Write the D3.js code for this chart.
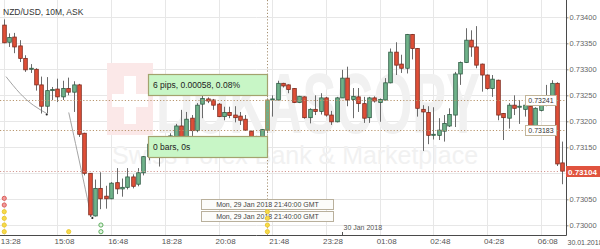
<!DOCTYPE html>
<html>
<head>
<meta charset="utf-8">
<title>NZD/USD, 10M, ASK</title>
<script src="https://cdn.jsdelivr.net/npm/d3@7"></script>
<style>
  body { margin: 0; background: #fff; }
  svg text { font-family: "Liberation Sans", Arial, sans-serif; }
</style>
</head>
<body>
<svg width="600" height="249"></svg>
<script>
// ---- data ----
const title = "NZD/USD, 10M, ASK";
const barStart = "2018-01-29T13:30:00Z";   // first visible 10 minute bar

const opens = [0.73385,0.73352,0.73362,0.73345,0.73321,0.73300,0.73300,0.73270,0.73229,0.73259,
  0.73262,0.73247,0.73263,0.73256,0.73270,0.73177,0.73100,0.73018,0.73071,0.73056,
  0.73051,0.73082,0.73070,0.73073,0.73093,0.73079,0.73101,0.73132,0.73156,0.73164,
  0.73148,0.73164,0.73170,0.73191,0.73169,0.73206,0.73182,0.73233,0.73243,0.73241,
  0.73233,0.73209,0.73217,0.73212,0.73210,0.73204,0.73181,0.73170,0.73169,0.73183,
  0.73241,0.73241,0.73273,0.73270,0.73263,0.73236,0.73247,0.73207,0.73223,0.73219,
  0.73245,0.73212,0.73199,0.73245,0.73283,0.73242,0.73247,0.73234,0.73207,0.73245,
  0.73236,0.73241,0.73274,0.73333,0.73310,0.73302,0.73367,0.73340,0.73223,0.73217,
  0.73174,0.73173,0.73181,0.73191,0.73212,0.73291,0.73313,0.73356,0.73343,0.73310,
  0.73289,0.73263,0.73279,0.73215,0.73206,0.73231,0.73228,0.73223,0.73229,0.73191,
  0.73221,0.73231,0.73235,0.73273,0.73120];
const highs = [0.73396,0.73369,0.73370,0.73356,0.73327,0.73310,0.73302,0.73286,0.73285,0.73266,
  0.73282,0.73278,0.73284,0.73277,0.73272,0.73178,0.73100,0.73088,0.73102,0.73076,
  0.73083,0.73110,0.73090,0.73110,0.73098,0.73110,0.73133,0.73168,0.73166,0.73168,
  0.73168,0.73177,0.73195,0.73222,0.73218,0.73212,0.73235,0.73252,0.73246,0.73243,
  0.73235,0.73228,0.73228,0.73229,0.73218,0.73212,0.73182,0.73172,0.73185,0.73244,
  0.73250,0.73278,0.73274,0.73271,0.73264,0.73249,0.73248,0.73225,0.73250,0.73254,
  0.73247,0.73220,0.73247,0.73299,0.73305,0.73264,0.73264,0.73247,0.73247,0.73248,
  0.73244,0.73283,0.73340,0.73352,0.73328,0.73368,0.73368,0.73341,0.73231,0.73229,
  0.73227,0.73206,0.73212,0.73225,0.73295,0.73315,0.73379,0.73375,0.73383,0.73311,
  0.73290,0.73289,0.73280,0.73216,0.73235,0.73250,0.73241,0.73247,0.73231,0.73227,
  0.73241,0.73270,0.73279,0.73275,0.73161];
const lows = [0.73350,0.73343,0.73331,0.73314,0.73295,0.73293,0.73259,0.73215,0.73215,0.73241,
  0.73237,0.73241,0.73250,0.73218,0.73170,0.73096,0.73016,0.73017,0.73031,0.73032,
  0.73050,0.73060,0.73055,0.73069,0.73071,0.73075,0.73096,0.73125,0.73146,0.73113,
  0.73142,0.73154,0.73168,0.73168,0.73168,0.73170,0.73179,0.73206,0.73235,0.73222,
  0.73208,0.73202,0.73206,0.73198,0.73193,0.73182,0.73169,0.73169,0.73169,0.73177,
  0.73209,0.73240,0.73265,0.73254,0.73235,0.73235,0.73205,0.73196,0.73212,0.73213,
  0.73209,0.73193,0.73198,0.73245,0.73229,0.73206,0.73218,0.73197,0.73197,0.73236,
  0.73199,0.73240,0.73273,0.73289,0.73293,0.73292,0.73319,0.73209,0.73143,0.73156,
  0.73165,0.73164,0.73161,0.73189,0.73189,0.73270,0.73312,0.73324,0.73302,0.73257,
  0.73261,0.73247,0.73202,0.73164,0.73186,0.73212,0.73195,0.73209,0.73188,0.73189,
  0.73219,0.73229,0.73233,0.73114,0.73079];
const closes = [0.73351,0.73361,0.73343,0.73321,0.73299,0.73302,0.73270,0.73229,0.73259,0.73261,
  0.73247,0.73263,0.73256,0.73270,0.73175,0.73100,0.73020,0.73071,0.73051,0.73051,
  0.73081,0.73070,0.73073,0.73093,0.73075,0.73101,0.73132,0.73156,0.73164,0.73148,
  0.73166,0.73172,0.73191,0.73169,0.73204,0.73182,0.73231,0.73244,0.73239,0.73231,
  0.73209,0.73217,0.73211,0.73207,0.73202,0.73183,0.73169,0.73171,0.73184,0.73241,
  0.73243,0.73273,0.73268,0.73261,0.73236,0.73248,0.73207,0.73223,0.73219,0.73245,
  0.73212,0.73199,0.73245,0.73283,0.73241,0.73248,0.73234,0.73206,0.73245,0.73239,
  0.73242,0.73274,0.73333,0.73308,0.73302,0.73367,0.73340,0.73225,0.73218,0.73173,
  0.73175,0.73183,0.73196,0.73213,0.73291,0.73313,0.73356,0.73343,0.73308,0.73289,
  0.73263,0.73281,0.73212,0.73207,0.73231,0.73225,0.73229,0.73231,0.73189,0.73225,
  0.73231,0.73237,0.73273,0.73118,0.73104];

const yTicks = [0.73000,0.73050,0.73100,0.73150,0.73200,0.73250,0.73300,0.73350,0.73400];
const xTickLabels = ["13:28","15:08","16:48","18:28","20:08","21:48","23:28","01:08","02:48","04:28","06:08"];
const cornerDate = "30.01.2018";
const dayBreak = "2018-01-30T00:00:00Z";
const dayLabel = "30 Jan 2018";

// crosshair / measuring tool
const crossBar = 49;
const crossPrices = [0.73241, 0.73183];
const crossTimeText = "Mon, 29 Jan 2018 21:40:00 GMT";
const measureLines = ["6 pips, 0.00058, 0.08%", "0 bars, 0s"];
const lastPrice = 0.73104;

// news markers: bar index and colours (top to bottom)
const eventBars = [0, 12, 18, 49];
const eventColors = [["red","red","yellow","yellow","yellow","yellow"], ["yellow"], ["green","green"], ["yellow","yellow","yellow","yellow"]];

// hand drawn arcs on the chart: [bar, price]
const arcA = [[0.41,0.73286],[3.0,0.73254],[5.5,0.73231],[8.0,0.73215]];
const arcB = [[12.1,0.73217],[14.5,0.73103],[16.05,0.73029],[16.5,0.73016]];

// ---- drawing ----
const svg = d3.select("svg");
const W = 566, H = 235;
const t0 = d3.isoParse(barStart);
const barTime = i => new Date(t0.getTime() + i * 600000);

const bars = opens.map((o, i) => ({t: barTime(i), o: o, h: highs[i], l: lows[i], c: closes[i], i: i}));

const xScale = d3.scaleUtc()
  .domain([d3.utcMinute.offset(t0, -7), d3.utcMinute.offset(t0, 1047)])
  .range([0, W]);
const yScale = d3.scaleLinear().domain([0.73, 0.734]).range([225.3, 17.3]);

svg.append("rect").attr("width", 600).attr("height", 249).attr("fill", "#fff");

svg.append("clipPath").attr("id", "plot")
  .append("rect").attr("width", W).attr("height", H);

const tickTimes = xTickLabels.map((d, k) => barTime(k * 10));

// grid
const grid = svg.append("g").attr("stroke", "#e7e7e7").attr("stroke-width", 1);
grid.selectAll(".vg").data(tickTimes).enter().append("line")
  .attr("x1", d => Math.round(xScale(d)) + 0.5).attr("x2", d => Math.round(xScale(d)) + 0.5)
  .attr("y1", 0).attr("y2", H);
grid.selectAll(".hg").data(yTicks).enter().append("line")
  .attr("x1", 0).attr("x2", W)
  .attr("y1", d => Math.round(yScale(d)) + 0.5).attr("y2", d => Math.round(yScale(d)) + 0.5);

// watermark
const wm = svg.append("g").attr("clip-path", "url(#plot)");
wm.append("rect").attr("x", 107).attr("y", 63).attr("width", 46).attr("height", 72).attr("fill", "#fbe8e8");
wm.append("rect").attr("x", 124).attr("y", 76).attr("width", 12).attr("height", 48).attr("fill", "#fff");
wm.append("rect").attr("x", 112).attr("y", 94).attr("width", 36).attr("height", 13).attr("fill", "#fff");
wm.append("text").attr("x", 156).attr("y", 133).attr("font-size", 86).attr("font-weight", "bold")
  .attr("fill", "#f1f1f1").attr("textLength", 324).attr("lengthAdjust", "spacingAndGlyphs").text("DUKASCOPY");
wm.append("text").attr("x", 112).attr("y", 164).attr("font-size", 25)
  .attr("fill", "#f1f1f1").attr("textLength", 366).attr("lengthAdjust", "spacingAndGlyphs").text("Swiss Forex Bank & Marketplace");

const plot = svg.append("g").attr("clip-path", "url(#plot)");

// drawn arcs
const arcLine = d3.line().x(d => xScale(barTime(d[0]))).y(d => yScale(d[1])).curve(d3.curveNatural);
[arcA, arcB].forEach(a => {
  plot.append("path").attr("d", arcLine(a)).attr("fill", "none").attr("stroke", "#9a9a9a").attr("stroke-width", 0.9);
  const e = a[a.length - 1];
  plot.append("circle").attr("cx", xScale(barTime(e[0]))).attr("cy", yScale(e[1]) + 1).attr("r", 1.1).attr("fill", "#222");
});

// candles
const bw = 3.6;
const cg = plot.append("g");
cg.selectAll(".wick").data(bars).enter().append("line")
  .attr("x1", d => Math.round(xScale(d.t)) + 0.5).attr("x2", d => Math.round(xScale(d.t)) + 0.5)
  .attr("y1", d => yScale(d.h)).attr("y2", d => yScale(d.l))
  .attr("stroke", "#6b6b6b").attr("stroke-width", 1);
cg.selectAll(".body").data(bars).enter().append("rect")
  .attr("x", d => Math.round(xScale(d.t)) + 0.5 - bw / 2)
  .attr("y", d => yScale(Math.max(d.o, d.c)))
  .attr("width", bw)
  .attr("height", d => Math.max(1, Math.abs(yScale(d.o) - yScale(d.c))))
  .attr("fill", d => d.c >= d.o ? "#6fb28a" : "#df4f38")
  .attr("stroke", d => d.i === crossBar ? "#9a7a3c" : (d.c >= d.o ? "#2f5b44" : "#7d2a1d"))
  .attr("stroke-width", 0.8);

// horizontal crosshair lines and last price line
plot.selectAll(".hl").data(crossPrices).enter().append("line")
  .attr("x1", 0).attr("x2", W)
  .attr("y1", d => Math.round(yScale(d)) + 0.5).attr("y2", d => Math.round(yScale(d)) + 0.5)
  .attr("stroke", "#b8966e").attr("stroke-width", 1).attr("stroke-dasharray", "1.2,2");
plot.append("line").attr("x1", 0).attr("x2", W)
  .attr("y1", Math.round(yScale(lastPrice)) + 0.5).attr("y2", Math.round(yScale(lastPrice)) + 0.5)
  .attr("stroke", "#d39a94").attr("stroke-width", 1).attr("stroke-dasharray", "1.2,2");

// vertical crosshair
const cx = Math.round(xScale(barTime(crossBar))) + 0.5;
plot.append("line").attr("x1", cx).attr("x2", cx).attr("y1", 0).attr("y2", H)
  .attr("stroke", "#a58f70").attr("stroke-width", 1).attr("stroke-dasharray", "1.2,2");

// measuring boxes
const boxTop = [yScale(crossPrices[0]) - 26, yScale(crossPrices[1]) + 6];
measureLines.forEach((s, k) => {
  plot.append("rect").attr("x", 148.5).attr("y", Math.round(boxTop[k]) + 0.5)
    .attr("width", cx - 148.5).attr("height", 21)
    .attr("fill", "#c8f6c6").attr("stroke", "#a3a36e").attr("stroke-width", 1.2);
  plot.append("text").attr("x", 153).attr("y", Math.round(boxTop[k]) + 14)
    .attr("font-size", 8.5).attr("fill", "#222").text(s);
});

// crosshair time boxes
[199, 211].forEach(y => {
  plot.append("rect").attr("x", cx - 66).attr("y", y + 0.5).attr("width", 132).attr("height", 10)
    .attr("fill", "#fcfcfa").attr("stroke", "#b9b09c").attr("stroke-width", 1);
  plot.append("text").attr("x", cx).attr("y", y + 8.2).attr("text-anchor", "middle")
    .attr("font-size", 7).attr("fill", "#444").text(crossTimeText);
});

// news markers
const dotStyle = {red: ["#ef9a9a", "#d9534f"], yellow: ["#f6da4a", "#e9c52c"], green: ["#e3f4e3", "#4ea64e"]};
eventBars.forEach((b, k) => {
  const cols = eventColors[k];
  cols.forEach((c, r) => {
    const row = cols.length - 1 - r;
    plot.append("circle").attr("cx", xScale(barTime(b)) + 0.5).attr("cy", 231.7 - row * 6.67).attr("r", 2.1)
      .attr("fill", dotStyle[c][0]).attr("stroke", dotStyle[c][1]).attr("stroke-width", 0.9);
  });
});

// day separator
const dx = Math.round(xScale(d3.isoParse(dayBreak))) + 0.5;
svg.append("line").attr("x1", dx).attr("x2", dx).attr("y1", H - 3).attr("y2", H).attr("stroke", "#555");
svg.append("text").attr("x", dx + 1).attr("y", 230).attr("font-size", 7).attr("fill", "#555").text(dayLabel);

// axes
const yAxis = svg.append("g").attr("transform", `translate(${W + 0.5},0)`)
  .call(d3.axisRight(yScale).tickValues(yTicks).tickSize(2).tickPadding(1).tickFormat(d3.format(".5f")));
yAxis.select(".domain").remove();
yAxis.selectAll("line").attr("stroke", "#888");
yAxis.selectAll("text").attr("font-size", 7.5).attr("fill", "#666").attr("font-family", null);

const xAxis = svg.append("g").attr("transform", `translate(0,${H + 0.5})`)
  .call(d3.axisBottom(xScale).tickValues(tickTimes).tickSize(0).tickPadding(3)
    .tickFormat((d, k) => xTickLabels[k]));
xAxis.select(".domain").remove();
xAxis.selectAll("text").attr("text-anchor", "start").attr("dx", -3.5)
  .attr("font-size", 8).attr("fill", "#555").attr("font-family", null);

svg.append("line").attr("x1", 0).attr("x2", W + 0.5).attr("y1", H + 0.5).attr("y2", H + 0.5).attr("stroke", "#4a4a4a");
svg.append("line").attr("x1", W + 0.5).attr("x2", W + 0.5).attr("y1", 0).attr("y2", H + 0.5).attr("stroke", "#4a4a4a");
svg.append("text").attr("x", W + 1.5).attr("y", 245).attr("font-size", 7).attr("fill", "#555").text(cornerDate);

// price tags on the right
crossPrices.forEach(p => {
  const y = Math.round(yScale(p));
  svg.append("rect").attr("x", 525.5).attr("y", y - 4.5).attr("width", 31).attr("height", 10)
    .attr("fill", "#fff").attr("stroke", "#c2b59a").attr("stroke-width", 1);
  svg.append("text").attr("x", 541).attr("y", y + 3).attr("text-anchor", "middle")
    .attr("font-size", 7).attr("fill", "#333").text(d3.format(".5f")(p));
});
const ly = Math.round(yScale(lastPrice));
svg.append("rect").attr("x", W).attr("y", ly - 5).attr("width", 600 - W).attr("height", 11).attr("fill", "#e0533e");
svg.append("text").attr("x", W + 2).attr("y", ly + 3.5).attr("font-size", 8).attr("font-weight", "bold")
  .attr("fill", "#fff").text(d3.format(".5f")(lastPrice));

// title
svg.append("text").attr("x", 3).attr("y", 15).attr("font-size", 8.5).attr("fill", "#333").text(title);
</script>
</body>
</html>
